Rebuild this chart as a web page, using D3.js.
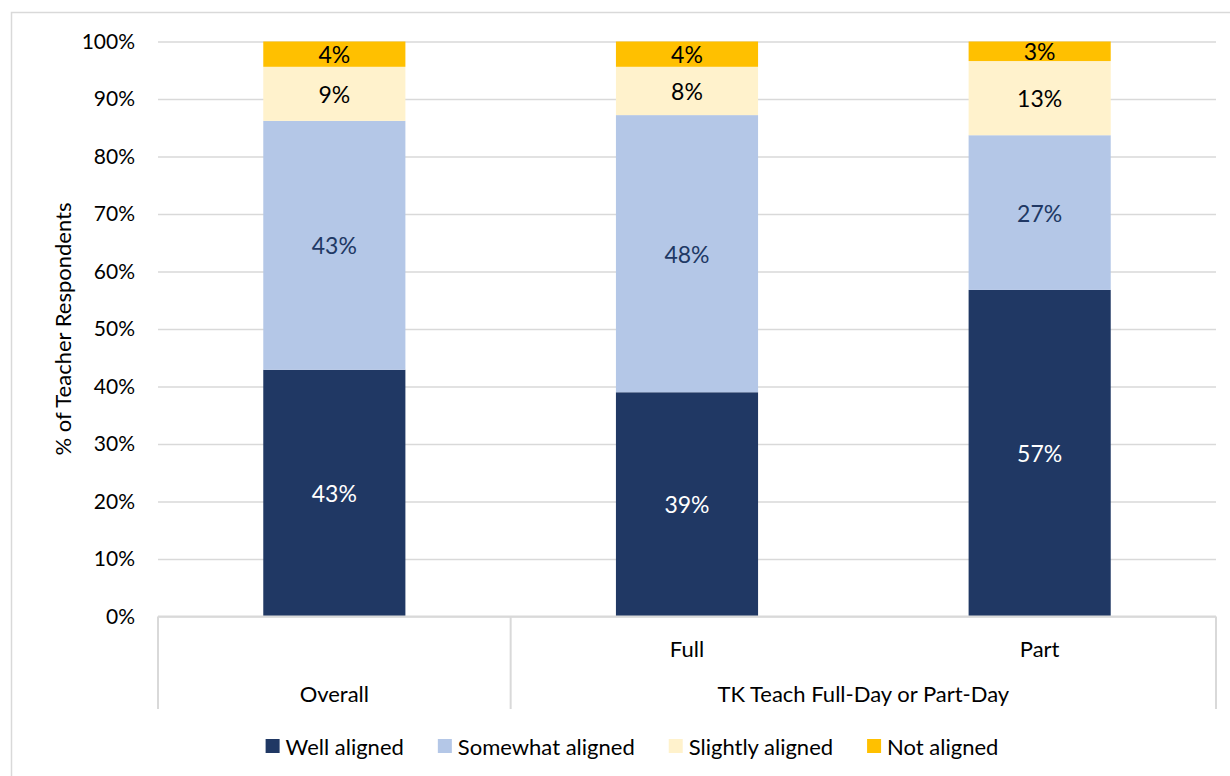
<!DOCTYPE html>
<html>
<head>
<meta charset="utf-8">
<script src="https://cdn.jsdelivr.net/npm/d3@7"></script>
<style>
  body { margin: 0; background: #fff; }
  svg { display: block; font-family: Lato, "Liberation Sans", sans-serif; }
</style>
</head>
<body>
<div></div>
<script>
const width = 1230;
const height = 776;

// data
const categories = ["Overall", "Full", "Part"];
const groups = ["Overall", "TK Teach Full-Day or Part-Day"];
const series = ["Well aligned", "Somewhat aligned", "Slightly aligned", "Not aligned"];
const wellAligned = [42.9, 39.0, 56.8];
const somewhatAligned = [43.3, 48.2, 26.9];
const slightlyAligned = [9.4, 8.4, 12.9];
const notAligned = [4.4, 4.4, 3.4];
const yTicks = [0, 10, 20, 30, 40, 50, 60, 70, 80, 90, 100];

const colors = ["#203864", "#B4C7E7", "#FFF2CC", "#FFC000"];
const labelColors = ["#ffffff", "#203864", "#000000", "#000000"];

const rows = categories.map((c, i) => ({
  cat: c,
  "Well aligned": wellAligned[i],
  "Somewhat aligned": somewhatAligned[i],
  "Slightly aligned": slightlyAligned[i],
  "Not aligned": notAligned[i]
}));

const plotLeft = 158, plotRight = 1216, plotTop = 41.5, plotBottom = 616.5;

const svg = d3
  .select("div")
  .append("svg")
  .attr("width", width)
  .attr("height", height);

// outer border
svg.append("rect")
  .attr("x", 11.5).attr("y", 12.5)
  .attr("width", width).attr("height", height)
  .attr("fill", "none")
  .attr("stroke", "#d9d9d9")
  .attr("stroke-width", 1.5);

const x = d3.scaleBand().domain(categories).range([plotLeft, plotRight]).padding(0);
const y = d3.scaleLinear().domain([0, 100]).range([plotBottom, plotTop]);
const barW = x.bandwidth() * 0.403;

// gridlines + tick labels
const axisY = d3.axisLeft(y)
  .tickValues(yTicks)
  .tickSize(-(plotRight - plotLeft))
  .tickPadding(23)
  .tickFormat((d) => d + "%");

const gy = svg.append("g")
  .attr("transform", "translate(" + plotLeft + ",0)")
  .call(axisY);
gy.select(".domain").remove();
gy.selectAll("line").attr("stroke", "#d9d9d9").attr("stroke-width", 1.5);
gy.selectAll("text")
  .attr("font-size", 21)
  .attr("fill", "#000")
  .style("font-family", "Lato, sans-serif");

// y title
svg.append("text")
  .attr("transform", "translate(62," + (plotTop + plotBottom) / 2 + ") rotate(-90)")
  .attr("text-anchor", "middle")
  .attr("dominant-baseline", "central")
  .attr("font-size", 22)
  .text("% of Teacher Respondents");

// stacked bars
const stacked = d3.stack().keys(series)(rows);

const layers = svg.append("g")
  .selectAll("g")
  .data(stacked)
  .enter()
  .append("g")
  .attr("fill", (d, i) => colors[i]);

layers.selectAll("rect")
  .data((d) => d)
  .enter()
  .append("rect")
  .attr("x", (d) => x(d.data.cat) + (x.bandwidth() - barW) / 2)
  .attr("y", (d) => y(d[1]))
  .attr("width", barW)
  .attr("height", (d) => y(d[0]) - y(d[1]));

// data labels
stacked.forEach((layer, li) => {
  svg.append("g")
    .selectAll("text")
    .data(layer)
    .enter()
    .append("text")
    .attr("x", (d) => x(d.data.cat) + x.bandwidth() / 2)
    .attr("y", (d) => (y(d[0]) + y(d[1])) / 2)
    .attr("text-anchor", "middle")
    .attr("dominant-baseline", "central")
    .attr("font-size", 23)
    .attr("fill", labelColors[li])
    .text((d) => Math.round(d[1] - d[0]) + "%");
});

// category axis (two levels)
const axisG = svg.append("g").attr("stroke", "#d9d9d9").attr("stroke-width", 2);
axisG.append("line")
  .attr("x1", plotLeft).attr("x2", plotRight)
  .attr("y1", plotBottom).attr("y2", plotBottom);
const dividers = [plotLeft, x("Full"), plotRight];
axisG.selectAll(".div")
  .data(dividers)
  .enter()
  .append("line")
  .attr("x1", (d) => d).attr("x2", (d) => d)
  .attr("y1", plotBottom).attr("y2", 709);

svg.append("g")
  .selectAll("text")
  .data(categories.slice(1))
  .enter()
  .append("text")
  .attr("x", (d) => x(d) + x.bandwidth() / 2)
  .attr("y", 648)
  .attr("text-anchor", "middle")
  .attr("dominant-baseline", "central")
  .attr("font-size", 22)
  .text((d) => d);

const groupCenters = [
  (plotLeft + x("Full")) / 2,
  (x("Full") + plotRight) / 2
];
svg.append("g")
  .selectAll("text")
  .data(groups)
  .enter()
  .append("text")
  .attr("x", (d, i) => groupCenters[i])
  .attr("y", 693)
  .attr("text-anchor", "middle")
  .attr("dominant-baseline", "central")
  .attr("font-size", 22)
  .text((d) => d);

// legend
const legend = svg.append("g").attr("id", "legend");
const items = legend.selectAll("g")
  .data(series)
  .enter()
  .append("g");
items.append("rect")
  .attr("width", 14).attr("height", 14)
  .attr("y", -7)
  .attr("fill", (d, i) => colors[i]);
items.append("text")
  .attr("x", 20)
  .attr("dominant-baseline", "central")
  .attr("font-size", 22)
  .text((d) => d);

let pos = 0;
const offsets = [];
items.each(function () {
  offsets.push(pos);
  const w = this.querySelector("text").getComputedTextLength();
  pos += 20 + w + 34;
});
const total = pos - 34;
const startX = 632 - total / 2;
items.attr("transform", (d, i) => "translate(" + (startX + offsets[i]) + ",746)");
</script>
</body>
</html>
